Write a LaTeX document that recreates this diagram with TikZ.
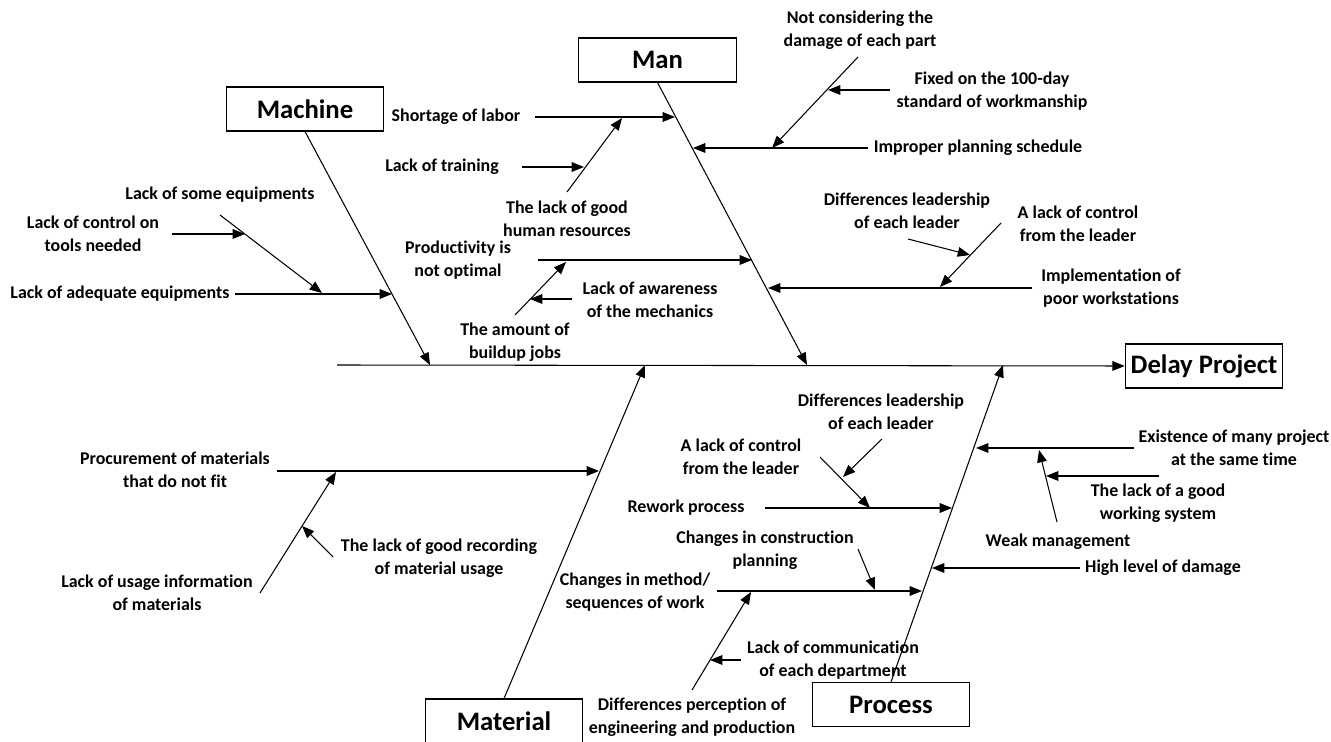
\documentclass[tikz,border=0pt]{standalone}
\usepackage{fontspec}
\setmainfont{Carlito}[Ligatures=NoCommon]
\usetikzlibrary{arrows.meta}
\begin{document}
\begin{tikzpicture}[x=0.02cm,y=-0.02cm,
 lbl/.style={font=\bfseries\fontsize{10.2}{13}\selectfont, align=center, inner sep=0pt},
 cat/.style={draw, line width=0.6pt, minimum width=3.15cm, minimum height=0.88cm, inner sep=0pt, font=\bfseries\fontsize{15.2}{17}\selectfont},
 ln/.style={line width=0.6pt},
 arr/.style={ln, -{Triangle[length=7pt,width=5.5pt]}}]
\useasboundingbox (0,0) rectangle (1331,742);
% category boxes
\node[cat] (machine) at (305,109) {Machine};
\node[cat] (man) at (657.5,60) {Man};
\node[cat] (delay) at (1204,366) {Delay Project};
\node[cat] (material) at (504,721) {Material};
\node[cat] (process) at (891,704.5) {Process};
% main spine
\coordinate (sL) at (337,365);
\draw[arr] (sL) -- (delay.west);
% bones
\coordinate (mcE) at (430,365);
\coordinate (mnE) at (807,365);
\coordinate (mtE) at (645,365);
\coordinate (prE) at (1003,365);
\draw[arr] (machine.south) -- (mcE);
\draw[arr] (man.south) -- (mnE);
\draw[arr] (material.north) -- (mtE);
\draw[arr] (process.north) -- (prE);
% Machine
\node[lbl] (t_adeq) at (120,294) {Lack of adequate equipments};
\coordinate (adeqS) at (235,294); \coordinate (adeqE) at (392,294);
\draw[arr] (adeqS) -- (adeqE);
\node[lbl] (t_some) at (220,195) {Lack of some equipments};
\coordinate (someS) at (220,215); \coordinate (someE) at (322,293);
\draw[arr] (someS) -- (someE);
\node[lbl] (t_ctrl) at (93,233.5) {Lack of control on\\tools needed};
\coordinate (ctrlS) at (172,234); \coordinate (ctrlE) at (245,234);
\draw[arr] (ctrlS) -- (ctrlE);
% Man left
\node[lbl] (t_short) at (456,117) {Shortage of labor};
\coordinate (shortS) at (535,117); \coordinate (shortE) at (675,117);
\draw[arr] (shortS) -- (shortE);
\node[lbl] (t_train) at (442,167) {Lack of training};
\coordinate (trainS) at (522,167); \coordinate (trainE) at (584,167);
\draw[arr] (trainS) -- (trainE);
\node[lbl] (t_hr) at (567,218.5) {The lack of good\\human resources};
\coordinate (hrS) at (567,192); \coordinate (hrE) at (622,118);
\draw[arr] (hrS) -- (hrE);
\node[lbl] (t_prod) at (458,260.5) {Productivity is\\not optimal};
\coordinate (prodS) at (538,260); \coordinate (prodE) at (752,260);
\draw[arr] (prodS) -- (prodE);
\node[lbl] (t_amount) at (515,342) {The amount of\\buildup jobs};
\coordinate (amS) at (515,315); \coordinate (amE) at (566,262);
\draw[arr] (amS) -- (amE);
\node[lbl] (t_aware) at (650,299.5) {Lack of awareness\\of the mechanics};
\coordinate (awS) at (572,299); \coordinate (awE) at (530,299);
\draw[arr] (awS) -- (awE);
% Man right
\node[lbl] (t_notc) at (860,30.5) {Not considering the\\damage of each part};
\coordinate (ncS) at (858,57); \coordinate (ncE) at (772,148);
\draw[arr] (ncS) -- (ncE);
\node[lbl] (t_fixed) at (992,91) {Fixed on the 100-day\\standard of workmanship};
\coordinate (fxS) at (890,90); \coordinate (fxE) at (828,90);
\draw[arr] (fxS) -- (fxE);
\node[lbl] (t_improper) at (978,148) {Improper planning schedule};
\coordinate (ipS) at (868,148); \coordinate (ipE) at (693,148);
\draw[arr] (ipS) -- (ipE);
\node[lbl] (t_diff1) at (907,211) {Differences leadership\\of each leader};
\coordinate (d1S) at (908,239); \coordinate (d1E) at (970,255);
\draw[arr] (d1S) -- (d1E);
\node[lbl] (t_alc1) at (1078,223.5) {A lack of control\\from the leader};
\coordinate (a1S) at (1001,223); \coordinate (a1E) at (940,287);
\draw[arr] (a1S) -- (a1E);
\node[lbl] (t_impl) at (1111,288.5) {Implementation of\\poor workstations};
\coordinate (imS) at (1032,288); \coordinate (imE) at (768,288);
\draw[arr] (imS) -- (imE);
% Material
\node[lbl] (t_proc) at (175,470) {Procurement of materials\\that do not fit};
\coordinate (pcS) at (277,471); \coordinate (pcE) at (599,471);
\draw[arr] (pcS) -- (pcE);
\node[lbl] (t_usage) at (157,593) {Lack of usage information\\of materials};
\coordinate (usS) at (260,593); \coordinate (usE) at (336,472);
\draw[arr] (usS) -- (usE);
\node[lbl] (t_rec) at (439,558) {The lack of good recording\\of material usage};
\coordinate (rcS) at (333,557); \coordinate (rcE) at (302,526);
\draw[arr] (rcS) -- (rcE);
% Process left
\node[lbl] (t_rework) at (686,508) {Rework process};
\coordinate (rwS) at (765,508); \coordinate (rwE) at (952,508);
\draw[arr] (rwS) -- (rwE);
\node[lbl] (t_alc2) at (741,456.5) {A lack of control\\from the leader};
\coordinate (a2S) at (820,457); \coordinate (a2E) at (870,508);
\draw[arr] (a2S) -- (a2E);
\node[lbl] (t_diff2) at (881,412) {Differences leadership\\of each leader};
\coordinate (d2S) at (882,439); \coordinate (d2E) at (843,477);
\draw[arr] (d2S) -- (d2E);
\node[lbl] (t_constr) at (765,550) {Changes in construction\\planning};
\coordinate (csS) at (858,549); \coordinate (csE) at (875,590);
\draw[arr] (csS) -- (csE);
\node[lbl] (t_method) at (635,592) {Changes in method/\\sequences of work};
\coordinate (mtS) at (717,591); \coordinate (mtE2) at (922,591);
\draw[arr] (mtS) -- (mtE2);
\node[lbl] (t_perc) at (692,717) {Differences perception of\\engineering and production};
\coordinate (peS) at (692,690); \coordinate (peE) at (751,592);
\draw[arr] (peS) -- (peE);
\node[lbl] (t_comm) at (833,660) {Lack of communication\\of each department};
\coordinate (cmS) at (741,660); \coordinate (cmE) at (710,660);
\draw[arr] (cmS) -- (cmE);
% Process right
\node[lbl] (t_exist) at (1234,447.5) {Existence of many project\\at the same time};
\coordinate (exS) at (1134,448); \coordinate (exE) at (976,448);
\draw[arr] (exS) -- (exE);
\node[lbl] (t_lgws) at (1158,503) {The lack of a good\\working system};
\coordinate (lgS) at (1159,476); \coordinate (lgE) at (1046,476);
\draw[arr] (lgS) -- (lgE);
\node[lbl] (t_weak) at (1058,542) {Weak management};
\coordinate (wkS) at (1057,522); \coordinate (wkE) at (1039,450);
\draw[arr] (wkS) -- (wkE);
\node[lbl] (t_high) at (1163,568) {High level of damage};
\coordinate (hiS) at (1080,568); \coordinate (hiE) at (932,568);
\draw[arr] (hiS) -- (hiE);
\end{tikzpicture}
\end{document}
